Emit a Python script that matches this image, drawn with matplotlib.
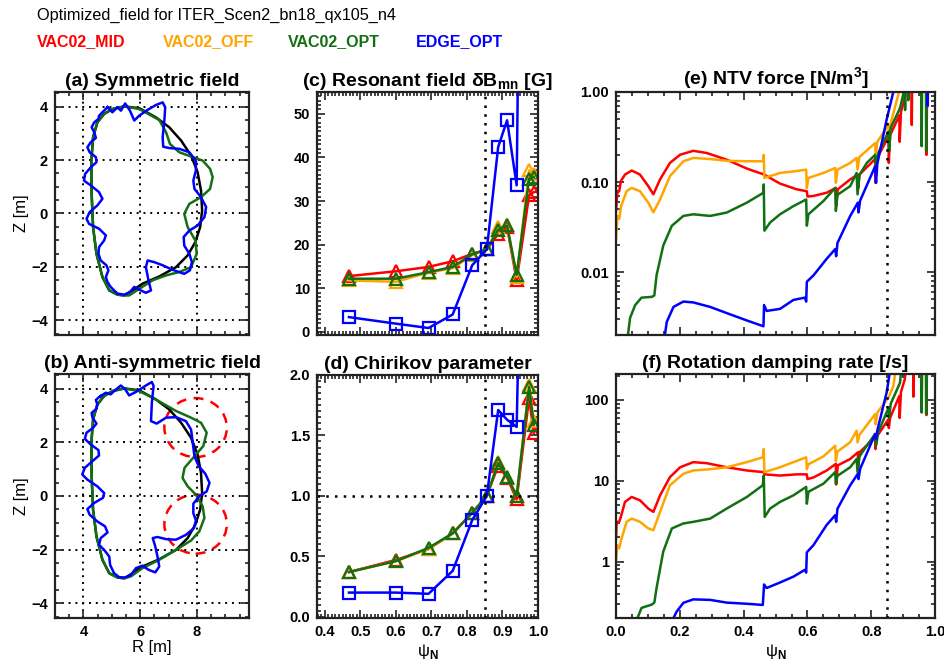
import numpy as np
import matplotlib
matplotlib.use("Agg")
import matplotlib.pyplot as plt
from matplotlib.ticker import MultipleLocator, FixedLocator, NullFormatter, LogLocator
from matplotlib.patches import Ellipse

plt.rcParams['font.family'] = ['Liberation Sans', 'DejaVu Sans']
plt.rcParams['font.weight'] = 'bold'
plt.rcParams['mathtext.fontset'] = 'custom'
plt.rcParams['mathtext.rm'] = 'Liberation Sans'
plt.rcParams['mathtext.bf'] = 'Liberation Sans:bold'

# colours of the four coil configurations
RED, ORANGE, GREEN, BLUE = '#ff0000', '#ffa500', '#127012', '#0000ff'
names = ['VAC02_MID', 'VAC02_OFF', 'VAC02_OPT', 'EDGE_OPT']
colors = [RED, ORANGE, GREEN, BLUE]

# ---------------- plasma boundary (R, Z) ----------------
black_R = [5.44, 5.97, 6.55, 7.02, 7.44, 7.79, 8.02, 8.14, 8.18, 8.11, 7.94, 7.67, 7.26, 6.67,
           6.08, 5.73, 5.44, 5.20, 4.91, 4.67, 4.46, 4.34, 4.29, 4.28, 4.34, 4.49, 4.73, 5.02, 5.44]
black_Z = [4.01, 3.94, 3.60, 3.23, 2.73, 2.17, 1.55, 0.86, 0.11, -0.51, -1.07, -1.57, -2.01, -2.36,
           -2.63, -2.88, -3.07, -3.04, -2.88, -2.38, -1.51, -0.51, 0.74, 1.98, 2.85, 3.41, 3.73, 3.91, 4.01]

# symmetric field: green (VAC02_OPT) and blue (EDGE_OPT)
sym_green_R = [5.44, 5.97, 6.67, 6.91, 7.05, 7.38, 7.85, 8.20, 8.46, 8.55, 8.46, 8.14, 7.73, 7.55,
               7.67, 7.94, 7.99, 7.79, 7.38, 6.91, 6.44, 5.97, 5.61, 5.44, 5.20, 4.91, 4.67, 4.46,
               4.34, 4.29, 4.28, 4.34, 4.49, 4.73, 5.02, 5.44]
sym_green_Z = [4.01, 3.91, 3.50, 3.04, 2.60, 2.29, 2.11, 1.98, 1.67, 1.36, 0.92, 0.61, 0.36, -0.01,
               -0.51, -1.01, -1.51, -2.01, -2.19, -2.32, -2.50, -2.82, -3.07, -3.07, -3.04, -2.88,
               -2.38, -1.51, -0.51, 0.74, 1.98, 2.85, 3.41, 3.73, 3.91, 4.01]
sym_blue_R = [4.85, 5.02, 5.20, 5.32, 5.47, 5.64, 5.79, 5.96, 6.26, 6.55, 6.79, 6.88, 6.85, 6.79,
              6.81, 7.02, 7.38, 7.73, 7.96, 7.96, 7.87, 7.91, 8.14, 8.32, 8.26, 8.02, 7.73, 7.53,
              7.55, 7.73, 7.82, 7.75, 7.55, 7.14, 6.79, 6.49, 6.26, 6.20, 6.29, 6.38, 6.20, 5.96,
              5.79, 5.64, 5.44, 5.20, 5.08, 4.96, 4.85, 4.79, 4.88, 4.81, 4.61, 4.53, 4.55, 4.73,
              4.79, 4.55, 4.20, 4.11, 4.22, 4.49, 4.67, 4.55, 4.26, 4.02, 4.06, 4.26, 4.46, 4.44,
              4.22, 4.14, 4.26, 4.44, 4.38, 4.29, 4.38, 4.53, 4.55, 4.67, 4.85]
sym_blue_Z = [3.98, 3.79, 3.98, 3.85, 4.12, 3.85, 3.48, 3.66, 3.88, 4.06, 4.16, 3.98, 3.48, 2.85,
              2.50, 2.45, 2.42, 2.29, 1.98, 1.61, 1.23, 0.92, 0.61, 0.24, -0.14, -0.45, -0.64, -0.88,
              -1.20, -1.51, -1.82, -2.13, -2.26, -2.11, -1.94, -1.82, -1.76, -2.01, -2.50, -2.88,
              -2.97, -2.85, -2.75, -2.94, -3.04, -3.00, -2.88, -2.75, -2.57, -2.38, -2.13, -1.94,
              -1.76, -1.51, -1.26, -1.01, -0.82, -0.57, -0.39, -0.20, 0.05, 0.30, 0.55, 0.80, 1.05,
              1.23, 1.48, 1.73, 1.92, 2.11, 2.29, 2.48, 2.67, 2.83, 3.04, 3.23, 3.41, 3.54, 3.66,
              3.79, 3.98]

# anti-symmetric field
asym_green_R = [5.44, 5.97, 6.55, 7.26, 7.79, 8.14, 8.34, 8.22, 7.91, 7.56, 7.49, 7.67, 7.96, 8.20,
                8.26, 8.08, 7.79, 7.26, 6.67, 6.08, 5.67, 5.44, 5.20, 4.91, 4.67, 4.46, 4.34, 4.29,
                4.28, 4.34, 4.49, 4.73, 5.02, 5.44]
asym_green_Z = [4.01, 3.91, 3.60, 3.17, 2.92, 2.73, 2.36, 1.86, 1.48, 1.05, 0.67, 0.36, 0.05, -0.39,
                -0.82, -1.32, -1.66, -2.01, -2.38, -2.69, -3.00, -3.07, -3.04, -2.88, -2.38, -1.51,
                -0.51, 0.74, 1.98, 2.85, 3.41, 3.73, 3.91, 4.01]
asym_blue_R = [4.61, 4.79, 4.96, 5.12, 5.32, 5.47, 5.61, 5.85, 6.20, 6.41, 6.47, 6.41, 6.38, 6.58,
               6.91, 7.26, 7.61, 7.79, 7.85, 7.91, 8.06, 8.29, 8.44, 8.34, 8.08, 7.87, 7.87, 7.96,
               7.89, 7.61, 7.26, 6.91, 6.61, 6.44, 6.53, 6.62, 6.67, 6.53, 6.29, 6.08, 5.85, 5.67,
               5.47, 5.26, 5.08, 4.94, 4.91, 4.73, 4.55, 4.61, 4.85, 4.76, 4.49, 4.22, 4.14, 4.38,
               4.69, 4.73, 4.49, 4.14, 3.96, 4.05, 4.32, 4.55, 4.53, 4.26, 4.05, 4.11, 4.34, 4.46,
               4.32, 4.29, 4.46, 4.49, 4.44, 4.55, 4.61]
asym_blue_Z = [3.73, 3.85, 3.79, 3.95, 4.12, 3.98, 3.75, 3.88, 4.12, 4.25, 4.10, 3.48, 2.79, 2.70,
               2.92, 2.94, 2.79, 2.48, 1.98, 1.48, 1.11, 0.83, 0.49, 0.17, -0.01, -0.29, -0.64,
               -0.91, -1.20, -1.45, -1.63, -1.61, -1.53, -1.57, -1.88, -2.32, -2.63, -2.85, -2.75,
               -2.60, -2.69, -2.95, -3.04, -3.03, -2.88, -2.57, -2.26, -2.01, -1.82, -1.57, -1.36,
               -1.13, -0.95, -0.70, -0.49, -0.26, -0.07, 0.11, 0.36, 0.61, 0.80, 1.05, 1.30, 1.51,
               1.71, 1.92, 2.13, 2.36, 2.54, 2.70, 2.92, 3.10, 3.25, 3.41, 3.58, 3.69, 3.73]

# red dashed circles in (b): centres and radius
circle_R = [7.95, 7.95]
circle_Z = [2.55, -1.05]
circle_rad = 1.1

# ---------------- resonant field / Chirikov at rational surfaces ----------------
psi_res = [0.468, 0.600, 0.692, 0.760, 0.815, 0.856, 0.888, 0.913, 0.940, 0.975, 0.988]
dB_mid = [12.8, 13.9, 14.9, 16.2, 17.9, 18.9, 22.5, 24.0, 11.8, 31.3, 32.0]
dB_off = [11.8, 11.5, 13.6, 14.6, 17.6, 18.9, 24.0, 24.4, 12.6, 37.0, 36.3]
dB_opt = [12.2, 12.2, 13.7, 14.9, 17.8, 18.9, 23.4, 24.4, 13.1, 35.1, 35.5]
dB_edge = [3.4, 1.9, 0.9, 4.0, 15.3, 18.9, 42.4, 48.5, 33.6, 290.0, 300.0]

ch_mid = [0.37, 0.47, 0.56, 0.69, 0.86, 1.00, 1.25, 1.15, 0.97, 1.81, 1.52]
ch_off = [0.37, 0.46, 0.56, 0.69, 0.86, 1.00, 1.28, 1.16, 1.00, 1.92, 1.62]
ch_opt = [0.37, 0.46, 0.57, 0.69, 0.86, 1.00, 1.27, 1.16, 1.00, 1.90, 1.59]
ch_edge = [0.20, 0.20, 0.19, 0.38, 0.80, 1.00, 1.71, 1.63, 1.57, 6.5, 7.0]

# ---------------- NTV force profiles [N/m^3] ----------------
ntv_mid_x = [0.0, 0.004, 0.010, 0.015, 0.028, 0.049, 0.075, 0.101, 0.117, 0.138, 0.169, 0.201,
             0.242, 0.284, 0.347, 0.410, 0.464, 0.514, 0.566, 0.598, 0.600, 0.619, 0.660, 0.689,
             0.690, 0.695, 0.734, 0.758, 0.759, 0.763, 0.812, 0.813, 0.817, 0.854, 0.855, 0.859,
             0.888, 0.889, 0.893, 0.905, 0.915, 0.926, 0.927, 0.929, 0.972, 0.973, 0.976, 1.0]
ntv_mid_y = [0.048, 0.076, 0.079, 0.102, 0.121, 0.134, 0.121, 0.090, 0.073, 0.107, 0.163, 0.201,
             0.222, 0.210, 0.177, 0.141, 0.121, 0.096, 0.083, 0.079, 0.069, 0.070, 0.076, 0.086,
             0.054, 0.083, 0.107, 0.121, 0.086, 0.121, 0.180, 0.098, 0.180, 0.320, 0.163, 0.330,
             0.550, 0.280, 0.600, 0.850, 1.5, 3.0, 0.43, 3.0, 3.0, 0.20, 3.0, 3.0]
ntv_off_x = [0.0, 0.004, 0.010, 0.016, 0.033, 0.049, 0.075, 0.101, 0.117, 0.138, 0.169, 0.211,
             0.242, 0.295, 0.347, 0.410, 0.462, 0.463, 0.465, 0.514, 0.556, 0.596, 0.598, 0.603,
             0.650, 0.687, 0.689, 0.694, 0.734, 0.754, 0.757, 0.763, 0.812, 0.814, 0.819, 0.854,
             0.856, 0.861, 0.887, 0.900, 1.0]
ntv_off_y = [0.023, 0.042, 0.039, 0.054, 0.079, 0.086, 0.079, 0.059, 0.046, 0.064, 0.116, 0.170,
             0.185, 0.180, 0.172, 0.170, 0.170, 0.200, 0.111, 0.126, 0.131, 0.137, 0.086, 0.111,
             0.126, 0.143, 0.098, 0.137, 0.163, 0.185, 0.137, 0.190, 0.270, 0.190, 0.280, 0.430,
             0.270, 0.450, 1.0, 3.0, 3.0]
ntv_opt_x = [0.033, 0.044, 0.060, 0.080, 0.112, 0.120, 0.127, 0.148, 0.175, 0.211, 0.242, 0.295,
             0.347, 0.410, 0.462, 0.463, 0.465, 0.483, 0.514, 0.556, 0.596, 0.598, 0.603, 0.650,
             0.687, 0.689, 0.694, 0.734, 0.754, 0.757, 0.763, 0.786, 0.812, 0.815, 0.822, 0.854,
             0.856, 0.861, 0.890, 0.902, 0.905, 0.906, 0.908, 0.915, 0.916, 0.918, 0.957, 0.958,
             0.960, 0.971, 0.972, 0.974, 1.0]
ntv_opt_y = [0.0015, 0.0031, 0.0043, 0.0052, 0.0053, 0.0055, 0.0092, 0.0197, 0.0327, 0.042, 0.0438,
             0.042, 0.0458, 0.059, 0.076, 0.094, 0.0288, 0.0355, 0.0438, 0.054, 0.064, 0.0327,
             0.0438, 0.0615, 0.086, 0.0477, 0.072, 0.090, 0.126, 0.073, 0.120, 0.163, 0.200, 0.137,
             0.210, 0.363, 0.220, 0.400, 0.660, 1.0, 3.0, 0.63, 3.0, 3.0, 0.81, 3.0, 3.0, 0.25, 3.0,
             3.0, 0.22, 3.0, 3.0]
ntv_edge_x = [0.148, 0.159, 0.180, 0.211, 0.242, 0.295, 0.347, 0.410, 0.462, 0.464, 0.472, 0.514,
              0.556, 0.592, 0.596, 0.598, 0.619, 0.660, 0.687, 0.690, 0.694, 0.734, 0.758, 0.760,
              0.765, 0.812, 0.815, 0.819, 0.848, 0.869, 0.875, 0.976, 0.977, 0.979, 1.0]
ntv_edge_y = [0.0015, 0.0028, 0.0041, 0.0047, 0.0046, 0.0041, 0.0035, 0.0029, 0.0025, 0.0043,
              0.0037, 0.0039, 0.0049, 0.0052, 0.0047, 0.0078, 0.0092, 0.014, 0.018, 0.015, 0.021,
              0.042, 0.059, 0.046, 0.062, 0.149, 0.098, 0.160, 0.49, 1.0, 3.0, 3.0, 0.7, 3.0, 3.0]

# ---------------- rotation damping rate [1/s] ----------------
rot_mid_x = [0.0, 0.002, 0.010, 0.015, 0.028, 0.049, 0.075, 0.101, 0.117, 0.138, 0.169, 0.201,
             0.242, 0.284, 0.347, 0.410, 0.462, 0.466, 0.514, 0.566, 0.598, 0.600, 0.619, 0.660,
             0.689, 0.690, 0.695, 0.734, 0.758, 0.759, 0.763, 0.812, 0.813, 0.817, 0.854, 0.855,
             0.859, 0.888, 0.889, 0.893, 0.905, 0.915, 0.931, 0.932, 0.934, 0.972, 0.973, 0.975, 1.0]
rot_mid_y = [1.94, 3.1, 3.1, 3.57, 5.47, 6.3, 5.73, 4.53, 4.12, 6.6, 11.1, 14.7, 17.0, 16.5, 14.7,
             13.4, 12.8, 12.0, 11.6, 12.0, 12.0, 10.5, 11.0, 13.4, 16.2, 9.0, 15.5, 18.6, 22.5, 15.0,
             22.5, 34.4, 24.7, 35.0, 57.8, 45.0, 60.0, 112.0, 60.0, 125.0, 180.0, 400.0, 400.0, 110.0,
             400.0, 400.0, 65.0, 400.0, 400.0]
rot_off_x = [0.0, 0.004, 0.010, 0.016, 0.033, 0.049, 0.075, 0.101, 0.117, 0.138, 0.169, 0.211,
             0.242, 0.295, 0.347, 0.410, 0.460, 0.463, 0.465, 0.514, 0.556, 0.596, 0.598, 0.603,
             0.650, 0.687, 0.689, 0.694, 0.734, 0.754, 0.757, 0.763, 0.812, 0.814, 0.819, 0.854,
             0.869, 0.885, 1.0]
rot_off_y = [1.0, 1.6, 1.46, 1.85, 3.1, 3.4, 3.1, 2.57, 2.45, 4.12, 8.8, 12.2, 13.4, 13.9, 14.7,
             17.0, 19.5, 24.7, 12.8, 14.7, 17.0, 19.5, 13.9, 16.0, 20.0, 27.2, 17.5, 23.0, 30.0, 41.6,
             30.0, 37.0, 66.7, 50.0, 70.0, 107.0, 148.0, 400.0, 400.0]
rot_opt_x = [0.065, 0.080, 0.112, 0.120, 0.127, 0.148, 0.175, 0.211, 0.242, 0.295, 0.347, 0.410,
             0.460, 0.463, 0.466, 0.483, 0.514, 0.556, 0.596, 0.598, 0.603, 0.650, 0.687, 0.689,
             0.694, 0.734, 0.754, 0.757, 0.763, 0.786, 0.812, 0.815, 0.822, 0.854, 0.856, 0.861,
             0.890, 0.900, 0.957, 0.958, 0.960, 0.971, 0.972, 0.974, 1.0]
rot_opt_y = [0.19, 0.267, 0.293, 0.31, 0.47, 1.33, 2.57, 2.96, 3.1, 3.4, 4.53, 6.3, 8.8, 11.6, 3.57,
             4.53, 5.47, 6.6, 8.4, 5.2, 7.3, 9.2, 12.8, 9.2, 11.5, 14.7, 18.6, 12.8, 20.0, 27.2, 37.9,
             27.2, 40.0, 80.0, 60.0, 90.0, 163.0, 400.0, 400.0, 70.0, 400.0, 400.0, 67.0, 400.0, 400.0]
rot_edge_x = [0.180, 0.190, 0.211, 0.242, 0.295, 0.347, 0.410, 0.460, 0.464, 0.472, 0.514, 0.556,
              0.592, 0.596, 0.598, 0.619, 0.660, 0.687, 0.690, 0.694, 0.734, 0.758, 0.760, 0.765,
              0.812, 0.815, 0.819, 0.848, 0.859, 0.870, 1.0]
rot_edge_y = [0.20, 0.24, 0.308, 0.34, 0.335, 0.31, 0.30, 0.29, 0.52, 0.47, 0.55, 0.65, 0.79, 0.73,
              1.3, 1.6, 2.83, 3.75, 3.1, 4.5, 8.8, 12.2, 10.5, 14.0, 37.9, 33.0, 42.0, 123.0, 230.0,
              400.0, 400.0]

TITLE_FS = 14


def style(ax):
    # IDL look: ticks inside on all four sides
    ax.tick_params(which='both', direction='in', top=True, right=True, width=1.2, color='#222222')
    ax.tick_params(which='major', length=6, labelsize=10.5, pad=5)
    ax.tick_params(which='minor', length=3)
    for s in ax.spines.values():
        s.set_linewidth(1.6)
        s.set_color('#222222')


fig = plt.figure(figsize=(9.45, 6.64), dpi=100)

fig.text(0.039, 0.977, 'Optimized_field for ITER_Scen2_bn18_qx105_n4', fontsize=11.7,
         fontweight='normal', va='center', ha='left')
for name, c, xx in zip(names, colors, [0.039, 0.172, 0.305, 0.440]):
    fig.text(xx, 0.937, name, color=c, fontsize=11.5, fontweight='bold', va='center', ha='left')

ax_a = fig.add_axes([0.0582, 0.4955, 0.2053, 0.366])
ax_b = fig.add_axes([0.0582, 0.0693, 0.2053, 0.3675])
ax_c = fig.add_axes([0.3354, 0.4955, 0.2339, 0.366])
ax_d = fig.add_axes([0.3354, 0.0693, 0.2339, 0.366])
ax_e = fig.add_axes([0.6519, 0.4955, 0.3376, 0.366])
ax_f = fig.add_axes([0.6519, 0.0693, 0.3376, 0.3675])

# (a) and (b) boundary plots
for ax, g_R, g_Z, b_R, b_Z, ttl in [(ax_a, sym_green_R, sym_green_Z, sym_blue_R, sym_blue_Z, '(a) Symmetric field'),
                                    (ax_b, asym_green_R, asym_green_Z, asym_blue_R, asym_blue_Z, '(b) Anti-symmetric field')]:
    ax.plot(black_R, black_Z, color='black', lw=1.8, solid_joinstyle='round')
    ax.plot(g_R, g_Z, color=GREEN, lw=1.8, solid_joinstyle='round')
    ax.plot(b_R, b_Z, color=BLUE, lw=1.8, solid_joinstyle='round')
    ax.set_xlim(3.0, 9.83)
    ax.set_ylim(-4.55, 4.55)
    ax.xaxis.set_major_locator(MultipleLocator(2))
    ax.xaxis.set_minor_locator(MultipleLocator(0.5))
    ax.yaxis.set_major_locator(MultipleLocator(2))
    ax.yaxis.set_minor_locator(MultipleLocator(0.5))
    ax.grid(True, which='major', color='black', linestyle=(0, (1, 2.5)), lw=1.4)
    ax.set_ylabel('Z [m]', fontsize=12, fontweight='normal', labelpad=2)
    ax.set_title(ttl, fontsize=TITLE_FS, fontweight='bold', pad=4)
    style(ax)

for cr, cz in zip(circle_R, circle_Z):
    ax_b.add_patch(Ellipse((cr, cz), 2 * circle_rad, 2 * circle_rad, fill=False,
                           edgecolor=RED, ls=(0, (4, 3)), lw=1.8))
ax_a.xaxis.set_major_formatter(NullFormatter())
ax_b.set_xlabel('R [m]', fontsize=12, fontweight='normal', labelpad=1)

# (c) resonant field and (d) Chirikov parameter
for ax, series in [(ax_c, [dB_mid, dB_off, dB_opt, dB_edge]), (ax_d, [ch_mid, ch_off, ch_opt, ch_edge])]:
    for vals, c, mk in zip(series, colors, ['^', '^', '^', 's']):
        ax.plot(psi_res, vals, color=c, lw=1.8, marker=mk, ms=8, mfc='none', mec=c, mew=1.6)
    ax.axvline(0.85, color='black', ls=(0, (1, 2.5)), lw=1.8)
    ax.set_xlim(0.378, 1.0)
    ax.xaxis.set_major_locator(MultipleLocator(0.1))
    ax.xaxis.set_minor_locator(MultipleLocator(0.01))
    style(ax)

ax_c.set_ylim(-0.7, 55)
ax_c.yaxis.set_major_locator(MultipleLocator(10))
ax_c.yaxis.set_minor_locator(MultipleLocator(1))
ax_c.xaxis.set_major_formatter(NullFormatter())
ax_c.set_title('(c) Resonant field δB$_{\\mathbf{mn}}$ [G]', fontsize=TITLE_FS, fontweight='bold', pad=4)

ax_d.axhline(1.0, color='black', ls=(0, (1, 2.5)), lw=1.8)
ax_d.set_ylim(-0.01, 2.0)
ax_d.yaxis.set_major_locator(MultipleLocator(0.5))
ax_d.yaxis.set_minor_locator(MultipleLocator(0.05))
ax_d.yaxis.set_major_formatter(plt.FormatStrFormatter('%.1f'))
ax_d.set_title('(d) Chirikov parameter', fontsize=TITLE_FS, fontweight='bold', pad=4)
ax_d.set_xlabel('ψ$_{\\rm N}$', fontsize=12, fontweight='normal', labelpad=2)

# (e) NTV force and (f) rotation damping rate
ntv = [(ntv_mid_x, ntv_mid_y), (ntv_off_x, ntv_off_y), (ntv_opt_x, ntv_opt_y), (ntv_edge_x, ntv_edge_y)]
rot = [(rot_mid_x, rot_mid_y), (rot_off_x, rot_off_y), (rot_opt_x, rot_opt_y), (rot_edge_x, rot_edge_y)]
for ax, series in [(ax_e, ntv), (ax_f, rot)]:
    for (xs, ys), c in zip(series, colors):
        ax.plot(xs, ys, color=c, lw=1.8, solid_joinstyle='round')
    ax.set_yscale('log')
    ax.axvline(0.85, color='black', ls=(0, (1, 2.5)), lw=1.8)
    ax.set_xlim(0.0, 1.0)
    ax.xaxis.set_major_locator(MultipleLocator(0.2))
    ax.xaxis.set_minor_locator(MultipleLocator(0.05))
    ax.yaxis.set_minor_locator(LogLocator(base=10, subs=np.arange(2, 10)))
    ax.yaxis.set_minor_formatter(NullFormatter())
    style(ax)

ax_e.set_ylim(0.002, 1.0)
ax_e.yaxis.set_major_locator(FixedLocator([0.01, 0.1, 1.0]))
ax_e.set_yticklabels(['0.01', '0.10', '1.00'])
ax_e.xaxis.set_major_formatter(NullFormatter())
ax_e.set_title('(e) NTV force [N/m$^{\\mathbf{3}}$]', fontsize=TITLE_FS, fontweight='bold', pad=4)

ax_f.set_ylim(0.2, 210)
ax_f.yaxis.set_major_locator(FixedLocator([1, 10, 100]))
ax_f.set_yticklabels(['1', '10', '100'])
ax_f.xaxis.set_major_formatter(plt.FormatStrFormatter('%.1f'))
ax_f.set_title('(f) Rotation damping rate [/s]', fontsize=TITLE_FS, fontweight='bold', pad=4)
ax_f.set_xlabel('ψ$_{\\rm N}$', fontsize=12, fontweight='normal', labelpad=2)

fig.savefig('out.png', dpi=100)
